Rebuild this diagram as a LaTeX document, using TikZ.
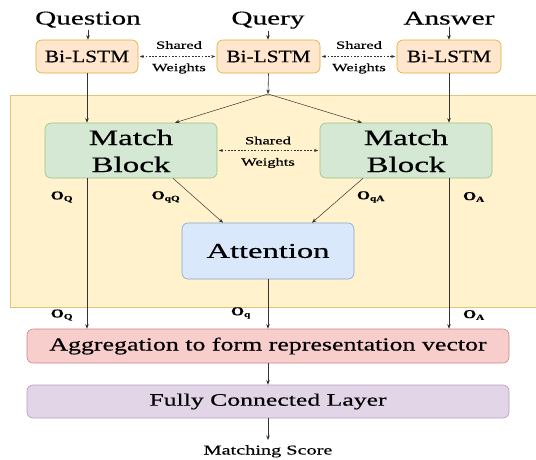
\documentclass[tikz,border=0pt]{standalone}
\usepackage{fontspec}
\setmainfont{Liberation Serif}[FakeBold=0.4]
\newfontfamily\plainserif{Liberation Serif}
\usepackage{graphicx}
\usetikzlibrary{arrows.meta,calc}
\definecolor{orf}{HTML}{FFE6CC}\definecolor{ord}{HTML}{D79B00}
\definecolor{grf}{HTML}{D5E8D4}\definecolor{grd}{HTML}{82B366}
\definecolor{blf}{HTML}{DAE8FC}\definecolor{bld}{HTML}{6C8EBF}
\definecolor{rdf}{HTML}{F8CECC}\definecolor{rdd}{HTML}{B85450}
\definecolor{puf}{HTML}{E1D5E7}\definecolor{pud}{HTML}{9673A6}
\definecolor{yef}{HTML}{FFF2CC}\definecolor{yed}{HTML}{D6B656}
\newcommand{\hs}[2]{\scalebox{#1}[1]{#2}}
\newcommand{\fsz}[1]{\rmfamily\fontsize{#1}{#1}\selectfont}
\tikzset{
  box/.style={draw, rounded corners=6pt, line width=0.6pt, inner sep=0pt, align=center},
  lstm/.style={box, fill=orf, draw=ord!80, minimum width=102pt, minimum height=33pt, font=\fsz{17.5}},
  mblock/.style={box, fill=grf, draw=grd!80, minimum width=172pt, minimum height=55pt},
  wide/.style={box, minimum width=482pt, minimum height=34pt},
  txt/.style={inner sep=0pt, outer sep=2pt},
  lbl/.style={inner sep=0pt, font=\fsz{12}\bfseries},
  arr/.style={-{Stealth[length=4.5pt,width=3.5pt]}, line width=0.6pt, draw=black!80},
  sharr/.style={{Stealth[length=4pt,width=3pt]}-{Stealth[length=4pt,width=3pt]}, line width=0.6pt, draw=black!80, dash pattern=on 1.8pt off 1.5pt},
  sw/.style={inner sep=0pt, font=\fsz{11}, align=center}
}
\begin{document}
\begin{tikzpicture}[x=1pt,y=-1pt]
\useasboundingbox (0,0) rectangle (536,459);
\fill[white] (0,0) rectangle (536,459);
% background
\draw[fill=yef, draw=yed!80, line width=0.6pt] (10,95) rectangle (540,307);
% inputs
\node[txt, anchor=base, font=\fsz{19.5}] (q) at (88,24.5) {\hs{1.5}{Question}};
\node[txt, anchor=base, font=\fsz{19.5}] (qy) at (268,24.5) {\hs{1.5}{Query}};
\node[txt, anchor=base, font=\fsz{19.5}] (a) at (449,24.5) {\hs{1.5}{Answer}};
% bi-lstm
\node[lstm] (b1) at (87,56.5) {\hs{1.22}{Bi-LSTM}};
\node[lstm, minimum width=103pt] (b2) at (268.5,56.5) {\hs{1.22}{Bi-LSTM}};
\node[lstm, minimum width=104pt] (b3) at (449,56.5) {\hs{1.22}{Bi-LSTM}};
\draw[arr] (q.south) -- (q.south |- b1.north);
\draw[arr] (qy.south) -- (qy.south |- b2.north);
\draw[arr] (a.south) -- (a.south |- b3.north);
% shared top
\draw[sharr] ([xshift=1.5pt]b1.east) -- ([xshift=-1.5pt]b2.west);
\draw[sharr] ([xshift=1.5pt]b2.east) -- ([xshift=-1.5pt]b3.west);
\node[sw] (s1) at (179,45) {\hs{1.5}{Shared}};
\node[sw] (w1) at (179,68.5) {\hs{1.5}{Weights}};
\node[sw] (s2) at (359,45) {\hs{1.5}{Shared}};
\node[sw] (w2) at (359,68.5) {\hs{1.5}{Weights}};
% match blocks
\node[mblock] (m1) at (131,150.5) {};
\node[mblock] (m2) at (406,150.5) {};
\node[txt, anchor=base, font=\fsz{22}] (m1a) at (131,145) {\hs{1.5}{Match}};
\node[txt, anchor=base, font=\fsz{22}] (m1b) at (131,172) {\hs{1.5}{Block}};
\node[txt, anchor=base, font=\fsz{22}] (m2a) at (406,145) {\hs{1.5}{Match}};
\node[txt, anchor=base, font=\fsz{22}] (m2b) at (406,172) {\hs{1.5}{Block}};
\draw[sharr] ([xshift=1.5pt]m1.east) -- ([xshift=-1.5pt]m2.west);
\node[sw] (s3) at (268,140.5) {\hs{1.5}{Shared}};
\node[sw] (w3) at (268,163) {\hs{1.5}{Weights}};
% split
\coordinate (sp) at (268,94);
\draw[arr] (b2.south) -- (sp);
\draw[arr, line width=0.5pt] (sp) -- ([xshift=44pt]m1.north);
\draw[arr, line width=0.5pt] (sp) -- ([xshift=-44pt]m2.north);
\draw[arr] (b1.south) -- (b1.south |- m1.north);
\draw[arr] (b3.south) -- (b3.south |- m2.north);
% attention
\node[box, fill=blf, draw=bld!80, minimum width=172pt, minimum height=56pt, font=\fsz{21}] (att) at (268,251) {\hs{1.55}{Attention}};
\draw[arr, line width=0.5pt] ([xshift=42pt]m1.south) -- ([xshift=-45pt]att.north);
\draw[arr, line width=0.5pt] ([xshift=-43pt]m2.south) -- ([xshift=44pt]att.north);
% aggregation and fc
\node[wide, fill=rdf, draw=rdd!70, font=\fsz{18.5}] (agg) at (268,346) {\hs{1.4}{Aggregation to form representation vector}};
\node[wide, fill=puf, draw=pud!70, minimum height=33pt, font=\fsz{17.5}] (fc) at (268,401.5) {\hs{1.47}{Fully Connected Layer}};
\draw[arr] (b1.south |- m1.south) -- (b1.south |- agg.north);
\draw[arr] (b3.south |- m2.south) -- (b3.south |- agg.north);
\draw[arr] (att.south) -- (att.south |- agg.north);
\draw[arr] (agg.south) -- (fc.north);
\node[txt, anchor=base, font=\fsz{13.5}] (ms) at (268,454.5) {\hs{1.5}{Matching Score}};
\draw[arr] (fc.south) -- (268,440);
% labels
\node[lbl] (l1) at (62,197) {\hs{1.4}{O\textsubscript{Q}}};
\node[lbl] (l2) at (166,197) {\hs{1.4}{O\textsubscript{qQ}}};
\node[lbl] (l3) at (371,197) {\hs{1.4}{O\textsubscript{qA}}};
\node[lbl] (l4) at (474,197) {\hs{1.4}{O\textsubscript{A}}};
\node[lbl] (l5) at (62,315) {\hs{1.4}{O\textsubscript{Q}}};
\node[lbl] (l6) at (241,313) {\hs{1.4}{O\textsubscript{q}}};
\node[lbl] (l7) at (474,315) {\hs{1.4}{O\textsubscript{A}}};
\end{tikzpicture}
\end{document}
